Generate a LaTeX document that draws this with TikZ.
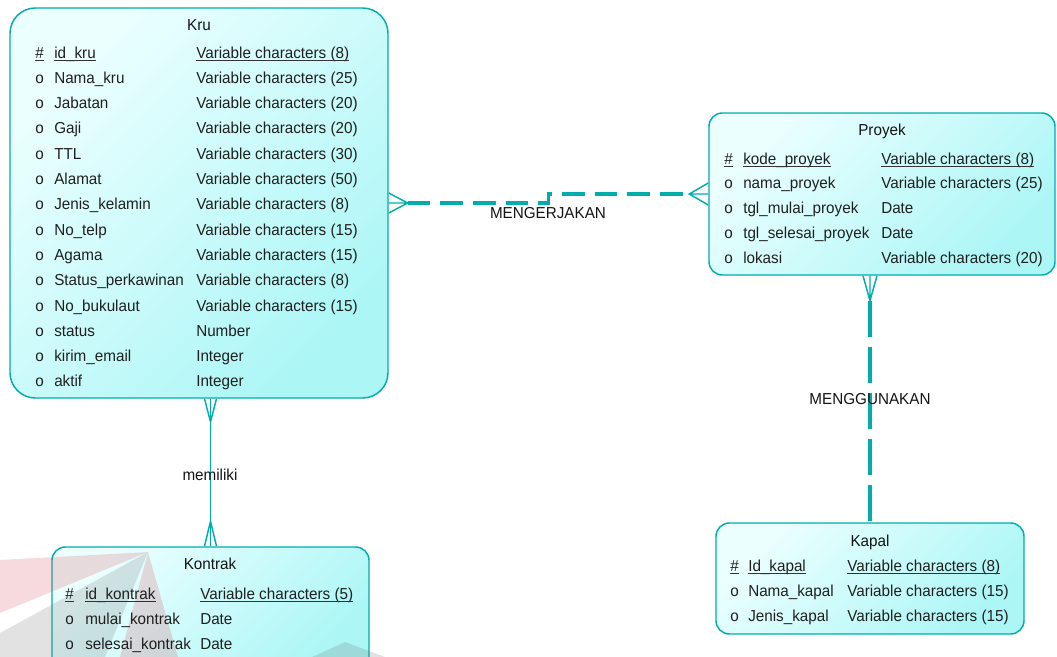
\documentclass[tikz,border=0pt]{standalone}
\usepackage{fontspec}
\setmainfont[FakeStretch=0.96]{Liberation Sans}
\usetikzlibrary{fit,calc}
\definecolor{erline}{RGB}{0,172,172}
\definecolor{boxlight}{RGB}{236,255,255}
\definecolor{boxdark}{RGB}{172,246,246}
\definecolor{wmred}{RGB}{215,70,85}
\definecolor{wmgray}{RGB}{110,110,110}
\newcommand\erfont{\fontsize{11.9}{14}\selectfont}
\begin{document}
\begin{tikzpicture}[x=0.75pt,y=-0.75pt,
  entity/.style={draw=erline, line width=1.1pt, top color=boxlight,
    bottom color=boxdark, shading angle=45, inner sep=0pt},
  txt/.style={anchor=base west, inner sep=0pt, font=\erfont, text=black!88},
  head/.style={anchor=base, inner sep=0pt, font=\erfont, text=black!92},
  lbl/.style={inner sep=0pt, font=\erfont, text=black!92},
  ulin/.style={draw=black!80, line width=0.5pt},
  relh/.style={draw=erline, line width=2.9pt, dash pattern=on 17pt off 7.5pt},
  relv/.style={draw=erline, line width=2.9pt, dash pattern=on 27pt off 7.5pt},
  relsolid/.style={draw=erline, line width=1.1pt},
  crow/.style={draw=erline, line width=1.1pt},
  wm/.style={fill opacity=0.2}]
\useasboundingbox (0,0) rectangle (1057,657);

% entity boxes
\node[entity, rounded corners=19pt, fit={(10,8) (388,398)}] (kru) {};
\node[entity, rounded corners=10pt, fit={(709,113) (1055,275)}] (proyek) {};
\node[entity, rounded corners=10pt, fit={(716,523) (1024,634)}] (kapal) {};
\node[entity, rounded corners=10pt, fit={(52,547) (369,672)}] (kontrak) {};

% faint logo behind the Kontrak table
\fill[wmred, wm] (148,552) -- (0,560) -- (0,613) -- cycle;
\fill[wmgray, wm] (148,552) -- (0,633) -- (0,657) -- (105,657) -- cycle;
\fill[wmred, wm] (148,552) -- (120,657) -- (178,657) -- cycle;
\fill[wmgray, wm] (345,642) -- (312,657) -- (385,657) -- cycle;

% Kru
\node[head] (kru-h) at (199,30) {Kru};
\node[txt] (kru-s0) at (35,58) {\#};
\node[txt] (kru-n0) at (54,58) {id\_kru};
\node[txt] (kru-t0) at (196,58) {Variable characters (8)};
\foreach \s/\n/\t [count=\i] in {
  o/Nama\_kru/Variable characters (25),
  o/Jabatan/Variable characters (20),
  o/Gaji/Variable characters (20),
  o/TTL/Variable characters (30),
  o/Alamat/Variable characters (50),
  o/Jenis\_kelamin/Variable characters (8),
  o/No\_telp/Variable characters (15),
  o/Agama/Variable characters (15),
  o/Status\_perkawinan/Variable characters (8),
  o/No\_bukulaut/Variable characters (15),
  o/status/Number,
  o/kirim\_email/Integer,
  o/aktif/Integer} {
  \pgfmathsetmacro\yy{58+25.3*\i}
  \node[txt] (kru-s\i) at (35,\yy) {\s};
  \node[txt] (kru-n\i) at (54,\yy) {\n};
  \node[txt] (kru-t\i) at (196,\yy) {\t};
}

% Proyek
\node[head] (proyek-h) at (882,135) {Proyek};
\node[txt] (proyek-s0) at (724,164) {\#};
\node[txt] (proyek-n0) at (743,164) {kode\_proyek};
\node[txt] (proyek-t0) at (881,164) {Variable characters (8)};
\foreach \s/\n/\t [count=\i] in {
  o/nama\_proyek/Variable characters (25),
  o/tgl\_mulai\_proyek/Date,
  o/tgl\_selesai\_proyek/Date,
  o/lokasi/Variable characters (20)} {
  \pgfmathsetmacro\yy{164+24.8*\i}
  \node[txt] (proyek-s\i) at (724,\yy) {\s};
  \node[txt] (proyek-n\i) at (743,\yy) {\n};
  \node[txt] (proyek-t\i) at (881,\yy) {\t};
}

% Kapal
\node[head] (kapal-h) at (870,546) {Kapal};
\node[txt] (kapal-s0) at (730,571) {\#};
\node[txt] (kapal-n0) at (748,571) {Id\_kapal};
\node[txt] (kapal-t0) at (847,571) {Variable characters (8)};
\foreach \s/\n/\t [count=\i] in {
  o/Nama\_kapal/Variable characters (15),
  o/Jenis\_kapal/Variable characters (15)} {
  \pgfmathsetmacro\yy{571+25.3*\i}
  \node[txt] (kapal-s\i) at (730,\yy) {\s};
  \node[txt] (kapal-n\i) at (748,\yy) {\n};
  \node[txt] (kapal-t\i) at (847,\yy) {\t};
}

% Kontrak
\node[head] (kontrak-h) at (210,569) {Kontrak};
\node[txt] (kontrak-s0) at (65,599) {\#};
\node[txt] (kontrak-n0) at (85,599) {id\_kontrak};
\node[txt] (kontrak-t0) at (200,599) {Variable characters (5)};
\foreach \s/\n/\t [count=\i] in {
  o/mulai\_kontrak/Date,
  o/selesai\_kontrak/Date} {
  \pgfmathsetmacro\yy{599+25.2*\i}
  \node[txt] (kontrak-s\i) at (65,\yy) {\s};
  \node[txt] (kontrak-n\i) at (85,\yy) {\n};
  \node[txt] (kontrak-t\i) at (200,\yy) {\t};
}

% primary key underlines
\foreach \e in {kru,proyek,kapal,kontrak}
  \foreach \c in {s0,n0,t0}
    \draw[ulin] ([yshift=-1.6pt]\e-\c.base west) -- ([yshift=-1.6pt]\e-\c.base east);

% MENGERJAKAN: Kru >--< Proyek
\coordinate (kp-a) at ($(kru.east)+(19,0)$);
\coordinate (kp-b) at ($(proyek.west)+(-19,0)$);
\coordinate (kp-m) at ($(kru.east)!0.5!(proyek.west)$);
\draw[relh] (kp-a) -- (kp-m |- kp-a) -- (kp-m |- kp-b) -- (kp-b);
\draw[crow] ($(kru.east)+(0,-10)$) -- (kp-a) -- ($(kru.east)+(0,10)$)
  (kru.east) -- (kp-a);
\draw[crow] ($(proyek.west)+(0,-11)$) -- (kp-b) -- ($(proyek.west)+(0,11)$)
  (proyek.west) -- (kp-b);
\node[lbl] (mengerjakan) at (548,213) {MENGERJAKAN};

% memiliki: Kru >--< Kontrak
\coordinate (kk-top) at (kontrak.north |- kru.south);
\coordinate (kk-a) at ($(kk-top)+(0,23)$);
\coordinate (kk-b) at ($(kontrak.north)+(0,-25)$);
\draw[relsolid] (kk-top) -- (kontrak.north);
\draw[crow] ($(kk-top)+(-6,0)$) -- (kk-a) -- ($(kk-top)+(6,0)$);
\draw[crow] ($(kontrak.north)+(-6,0)$) -- (kk-b) -- ($(kontrak.north)+(6,0)$);
\node[lbl] (memiliki) at (210,475) {memiliki};

% MENGGUNAKAN: Proyek >--- Kapal
\coordinate (pk-top) at (kapal.north |- proyek.south);
\coordinate (pk-a) at ($(pk-top)+(0,25)$);
\draw[relv] (pk-a) -- (kapal.north);
\draw[crow] ($(pk-top)+(-7,0)$) -- (pk-a) -- ($(pk-top)+(7,0)$)
  (pk-top) -- (pk-a);
\node[lbl] (menggunakan) at (870,399) {MENGGUNAKAN};
\end{tikzpicture}
\end{document}
